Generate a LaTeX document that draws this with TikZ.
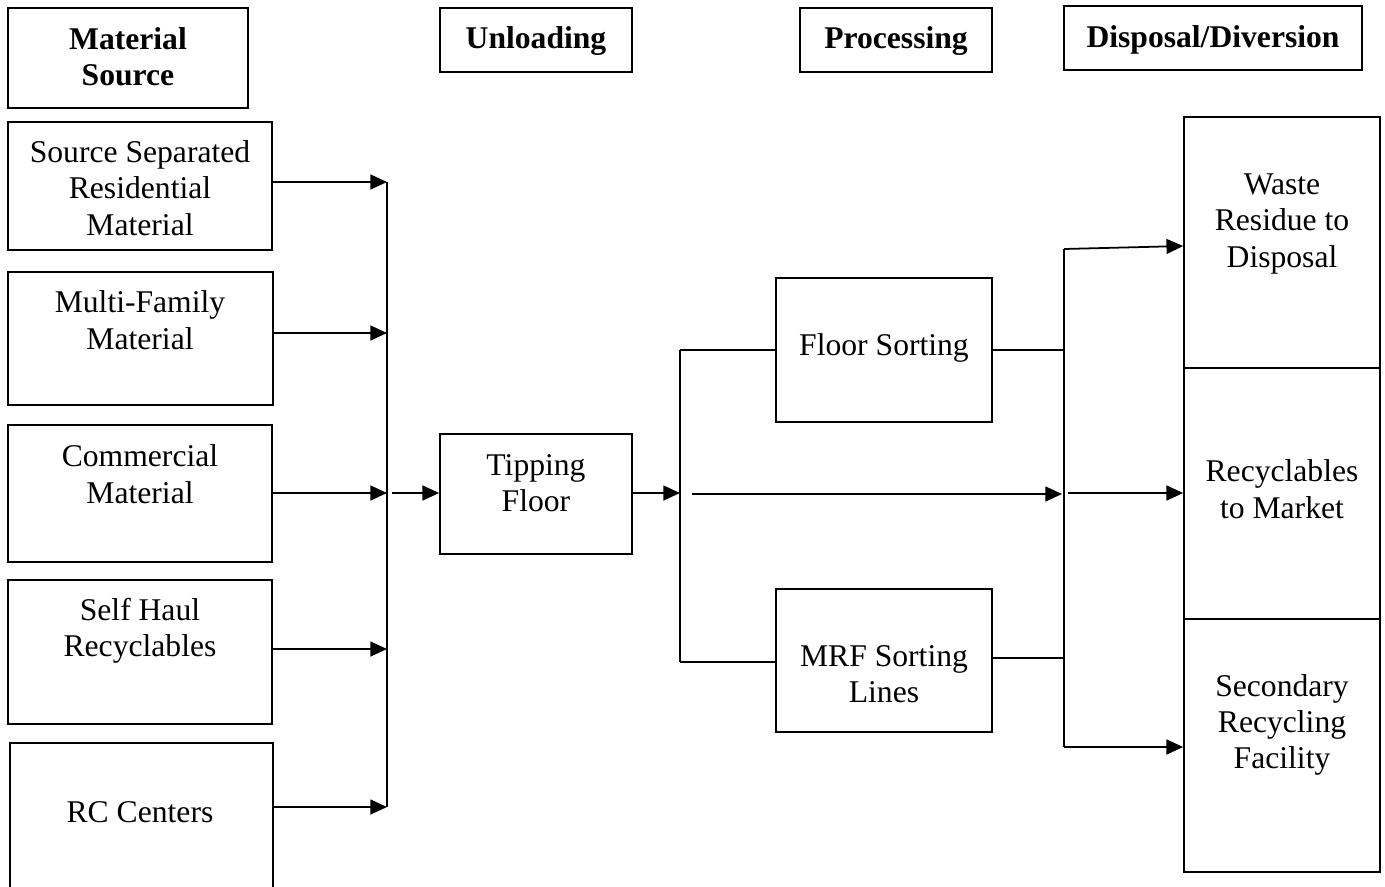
\documentclass[tikz,border=0pt]{standalone}
\usepackage{fontspec}
\setmainfont{Liberation Serif}
\usetikzlibrary{arrows.meta}
\tikzset{
  box/.style={draw, line width=1pt, inner sep=0pt},
  txt/.style={align=center, inner sep=0pt, font=\fontsize{18}{20.7}\selectfont},
  head/.style={txt, font=\fontsize{18}{20.7}\selectfont\bfseries},
  conn/.style={line width=1pt},
  arr/.style={conn, -{Triangle[length=9.5pt,width=8.5pt]}}
}
\begin{document}
\begin{tikzpicture}[x=0.02cm,y=-0.02cm]
\useasboundingbox (0,0) rectangle (1385,886);
% header boxes
\node[box, minimum width=4.8cm, minimum height=2.0cm] (ms) at (128,58) {};
\node[head] (mst) at (128,57) {Material\\Source};
\node[box, minimum width=3.84cm, minimum height=1.28cm] (un) at (536,40) {};
\node[head] (unt) at (536,41) {Unloading};
\node[box, minimum width=3.84cm, minimum height=1.28cm] (pr) at (896,40) {};
\node[head] (prt) at (896,41) {Processing};
\node[box, minimum width=5.96cm, minimum height=1.28cm] (dd) at (1213,38) {};
\node[head] (ddt) at (1213,40) {Disposal/Diversion};
% source boxes
\node[box, minimum width=5.28cm, minimum height=2.56cm] (s1) at (140,186) {};
\node[txt] (s1t) at (140,188) {Source Separated\\Residential\\Material};
\node[box, minimum width=5.3cm, minimum height=2.66cm] (s2) at (140.5,338.5) {};
\node[txt] (s2t) at (140,320) {Multi-Family\\Material};
\node[box, minimum width=5.28cm, minimum height=2.74cm] (s3) at (140,493.5) {};
\node[txt] (s3t) at (140,474) {Commercial\\Material};
\node[box, minimum width=5.28cm, minimum height=2.88cm] (s4) at (140,652) {};
\node[txt] (s4t) at (140,631) {Self Haul\\Recyclables};
\node[box, minimum width=5.26cm, minimum height=2.98cm] (s5) at (141.5,817.5) {};
\node[txt] (s5t) at (140,812) {RC Centers};
% middle boxes
\node[box, minimum width=3.84cm, minimum height=2.4cm] (tf) at (536,494) {};
\node[txt] (tft) at (536,483) {Tipping\\Floor};
\node[box, minimum width=4.32cm, minimum height=2.88cm] (fs) at (884,350) {};
\node[txt] (fst) at (884,348) {Floor Sorting};
\node[box, minimum width=4.32cm, minimum height=2.86cm] (mrf) at (884,660.5) {};
\node[txt] (mrft) at (884,674) {MRF Sorting\\Lines};
% right boxes
\node[box, minimum width=3.92cm, minimum height=5.02cm] (wr) at (1282,242.5) {};
\node[txt] (wrt) at (1282,224) {Waste\\Residue to\\Disposal};
\node[box, minimum width=3.92cm, minimum height=5.02cm] (rm) at (1282,493.5) {};
\node[txt] (rmt) at (1282,489) {Recyclables\\to Market};
\node[box, minimum width=3.92cm, minimum height=5.06cm] (sr) at (1282,745.5) {};
\node[txt] (srt) at (1282,725) {Secondary\\Recycling\\Facility};
% left bus
\coordinate (b1) at (387,182);
\coordinate (b2) at (387,333);
\coordinate (b3) at (387,493);
\coordinate (b4) at (387,649);
\coordinate (b5) at (387,807);
\draw[conn] (b1) -- (b5);
\draw[arr] (s1.east |- b1) -- (b1);
\draw[arr] (s2.east |- b2) -- (b2);
\draw[arr] (s3.east |- b3) -- (b3);
\draw[arr] (s4.east |- b4) -- (b4);
\draw[arr] (s5.east |- b5) -- (b5);
\coordinate (bt) at (392,493);
\draw[arr] (bt) -- (tf.west |- bt);
% split after tipping floor
\coordinate (j1) at (680,493);
\coordinate (j1t) at (680,350);
\coordinate (j1b) at (680,662);
\draw[arr] (tf.east |- j1) -- (j1);
\draw[conn] (j1t) -- (j1b);
\draw[conn] (j1t) -- (fs.west |- j1t);
\draw[conn] (j1b) -- (mrf.west |- j1b);
\coordinate (l0) at (692,494);
\coordinate (l1) at (1062,494);
\draw[arr] (l0) -- (l1);
% right bus
\coordinate (k1) at (1064,249);
\coordinate (k2a) at (1064,350);
\coordinate (k2b) at (1064,658);
\coordinate (k2) at (1068,493);
\coordinate (k3) at (1064,747);
\draw[conn] (k1) -- (k3);
\draw[conn] (fs.east |- k2a) -- (k2a);
\draw[conn] (mrf.east |- k2b) -- (k2b);
\draw[arr] (k1) -- (wr.west |- 0,246);
\draw[arr] (k2) -- (rm.west |- k2);
\draw[arr] (k3) -- (sr.west |- k3);
\end{tikzpicture}
\end{document}
